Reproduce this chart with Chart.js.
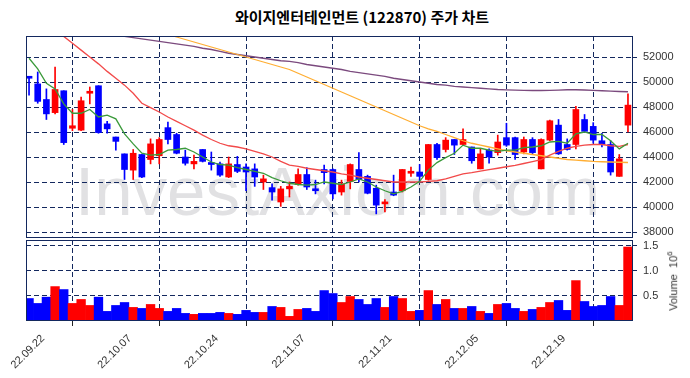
<!DOCTYPE html>
<html>
<head>
<meta charset="utf-8">
<script src="https://cdn.jsdelivr.net/npm/chart.js@4.4.1/dist/chart.umd.min.js"></script>
<style>
body { margin:0; width:690px; height:378px; position:relative; background:#fff; overflow:hidden; }
#wm { position:absolute; left:75px; top:157px; font:69px/69px 'Liberation Sans', Arial, sans-serif; color:#e1e1e3; white-space:nowrap; }
#titulo { position:absolute; left:0; top:7px; width:724px; text-align:center; font:bold 15px/20px 'Noto Sans CJK KR', sans-serif; color:#000; }
#vlabel { position:absolute; left:672px; top:281px; transform:translate(-50%,-50%) rotate(-90deg); font:11px 'Liberation Sans', Arial, sans-serif; color:#333; white-space:nowrap; }
canvas { position:absolute; left:0; }
</style>
</head>
<body>
<div id="wm">InvestAxiom.com</div>
<div id="titulo">와이지엔터테인먼트 (122870) 주가 차트</div>
<canvas id="price" width="690" height="240" style="top:0"></canvas>
<canvas id="volume" width="690" height="140" style="top:238px"></canvas>
<div id="vlabel">Volume&nbsp;&nbsp;10<sup style="font-size:8px">6</sup></div>
<script>
// ////// DADOS //////
var dates = ['22.09.22','22.09.23','22.09.26','22.09.27','22.09.28','22.09.29','22.09.30','22.10.04','22.10.05','22.10.06',
	'22.10.07','22.10.11','22.10.12','22.10.13','22.10.14','22.10.17','22.10.18','22.10.19','22.10.20','22.10.21',
	'22.10.24','22.10.25','22.10.26','22.10.27','22.10.28','22.10.31','22.11.01','22.11.02','22.11.03','22.11.04',
	'22.11.07','22.11.08','22.11.09','22.11.10','22.11.11','22.11.14','22.11.15','22.11.16','22.11.17','22.11.18',
	'22.11.21','22.11.22','22.11.23','22.11.24','22.11.25','22.11.28','22.11.29','22.11.30','22.12.01','22.12.02',
	'22.12.05','22.12.06','22.12.07','22.12.08','22.12.09','22.12.12','22.12.13','22.12.14','22.12.15','22.12.16',
	'22.12.19','22.12.20','22.12.21','22.12.22','22.12.23','22.12.26','22.12.27','22.12.28','22.12.29','23.01.02'];
var xTicks = [0, 10, 20, 30, 40, 50, 60];

var opens = [50400,49850,48600,47550,49300,46300,46150,49100,49700,46650,
	45600,44250,42950,44200,43800,44100,46350,45800,44000,43450,
	44600,43550,43450,42400,43400,43200,43050,42000,41550,40400,
	41450,41800,42600,41400,43000,43000,41200,42050,43000,42450,
	41500,40250,41200,41300,42700,42800,42200,45000,44600,45400,
	45000,44800,43050,44550,44350,45550,45550,44400,45400,43050,
	45350,46550,45000,45000,47000,46450,45300,45000,42450,46550];
var highs = [50400,50800,49450,51200,49300,47800,48800,49600,49700,46850,
	45600,44250,44600,44200,45450,45550,46800,45900,44550,44150,
	44600,44400,43600,44000,44050,43450,43450,42550,41850,41650,
	42000,43050,43150,42150,43350,43050,42150,43450,44350,42550,
	41750,40600,42550,43000,43200,43400,45000,45100,45550,45400,
	46250,44800,44650,44650,45750,46700,45600,45600,45550,45450,
	46950,47000,45450,48050,47400,46750,45900,45300,44200,49050];
var lows = [48950,48300,47000,47450,45000,46100,46100,48250,45900,45900,
	44550,42200,42200,42350,43450,43450,45050,44250,43350,43050,
	43600,42950,42450,42350,42750,41300,41650,41400,40550,40050,
	40800,41750,41400,41050,41850,40650,40950,41450,42000,41050,
	39450,39600,40900,41200,42450,42000,42150,43800,44400,44200,
	44950,43500,43050,43500,44150,44850,43800,44250,44250,43050,
	45300,44200,44550,44650,45950,45100,44800,42550,42450,46000];
var closes = [50300,48450,47450,49400,45150,46500,48500,49200,45950,46250,
	45250,43000,44300,42400,45050,45400,45400,44300,43500,43650,
	43650,43400,42550,43450,42850,42800,42400,42250,41200,41450,
	41650,42600,41600,41300,42750,41050,41850,43400,42200,41100,
	40150,40400,40950,43000,42850,42450,45000,43950,45350,44950,
	45400,43700,44250,44000,45200,44950,44200,45400,44350,45400,
	46900,44250,44600,47800,46050,45350,45000,42800,43850,48150];
var volumes = [447000,349000,474000,684000,625000,349000,428000,309000,474000,191000,
	309000,368000,270000,250000,329000,250000,191000,250000,151000,132000,
	151000,151000,171000,151000,132000,211000,171000,171000,289000,270000,
	92000,230000,250000,191000,605000,546000,368000,487000,428000,329000,
	447000,270000,487000,447000,191000,211000,605000,329000,428000,250000,
	250000,289000,191000,151000,329000,349000,250000,191000,230000,270000,
	368000,408000,211000,803000,388000,289000,309000,487000,309000,1470000];

// medias moveis
var ma5 = [51900,51050,49900,49450,48250,47500,47500,47800,47200,47350,
	47050,45850,45050,44300,44150,44200,44550,44600,44700,44400,
	44000,43600,43400,43350,43150,43000,42850,42700,42350,42100,
	41900,41800,41750,41800,42000,41900,41800,42000,42250,42000,
	41600,41300,41050,41250,41600,42050,42950,43550,43950,44300,
	44950,44700,44700,44550,44450,44550,44550,44750,44800,44900,
	45200,45250,45100,45850,46000,45800,45800,45300,44650,45100];
var ma20 = [55900,55300,54750,54200,53650,53100,52550,52000,51450,50850,
	50300,49750,49100,48300,47950,47600,47200,46850,46500,46150,
	45750,45400,45100,44900,44800,44650,44450,44250,44000,43650,
	43350,43250,43100,43000,42900,42800,42650,42550,42400,42300,
	42200,42100,42000,42000,42000,42000,42050,42100,42250,42450,
	42650,42750,42870,42990,43100,43220,43330,43480,43630,43790,
	44150,44450,44700,44850,44950,45000,45000,44900,44850,45000];
var ma60 = [57000,56800,56600,56400,56200,56000,55800,55600,55400,55200,
	55000,54800,54600,54400,54200,54000,53800,53600,53400,53200,
	53000,52800,52600,52400,52200,52000,51800,51600,51400,51200,
	51000,50700,50400,50100,49800,49500,49200,48900,48600,48300,
	48000,47700,47400,47100,46800,46500,46250,46050,45800,45550,
	45300,45100,44950,44800,44650,44500,44400,44300,44200,44100,
	44000,43900,43800,43750,43700,43650,43620,43600,43580,43560];
var ma120 = [54900,54800,54700,54600,54450,54350,54250,54100,54000,53900,
	53800,53650,53550,53450,53350,53250,53150,53050,52950,52850,
	52700,52600,52450,52300,52200,52100,52000,51900,51800,51700,
	51650,51550,51400,51300,51200,51100,51000,50850,50750,50650,
	50550,50450,50300,50200,50100,50000,49900,49800,49750,49650,
	49600,49550,49500,49450,49400,49370,49350,49330,49320,49320,
	49330,49350,49380,49380,49360,49330,49300,49270,49240,49220];

var priceTicks = [38000, 40000, 42000, 44000, 46000, 48000, 50000, 52000];
var volumeTicks = [500000, 1000000, 1500000];

// ////// ESTILO //////
var navy = '#13285e';
var up = '#ff0000';
var down = '#0000ff';
var fonte = { family: "'Liberation Sans', Arial, sans-serif", size: 11 };

var cores = closes.map(function(c, i) { return c >= opens[i] ? up : down; });

function serie(arr) {
	return arr.map(function(v, i) { return { x : i, y : v }; });
}

// sem padding automatico dos rotulos
function semPadding(s) {
	s.paddingTop = 0;
	s.paddingBottom = 0;
	s.paddingLeft = 0;
	s.paddingRight = 0;
}

// desenha a moldura da area do grafico
var moldura = {
	id : 'moldura',
	afterDraw : function(chart) {
		var a = chart.chartArea;
		var ctx = chart.ctx;
		ctx.save();
		ctx.strokeStyle = navy;
		ctx.lineWidth = 1;
		ctx.setLineDash([]);
		ctx.strokeRect(Math.round(a.left) + 0.5, Math.round(a.top) + 0.5, Math.round(a.right - a.left) - 1, Math.round(a.bottom - a.top) - 1);
		ctx.restore();
	}
};

var xBase = {
	type : 'linear',
	offset : false,
	min : -0.35,
	max : 69.58,
	afterBuildTicks : function(s) { s.ticks = xTicks.map(function(v) { return { value : v }; }); },
	border : { display : false, dash : [5, 3] }
};

// ////////// grafico de precos //////////
var graficoPreco = new Chart(document.getElementById("price"), {
	type : 'bar',
	data : {
		datasets : [ {
			type : 'line',
			data : serie(ma5),
			borderColor : '#3a9a3a',
			borderWidth : 1.3,
			pointRadius : 0
		}, {
			type : 'line',
			data : serie(ma20),
			borderColor : '#f24a4a',
			borderWidth : 1.3,
			pointRadius : 0
		}, {
			type : 'line',
			data : serie(ma60),
			borderColor : '#ffae33',
			borderWidth : 1.3,
			pointRadius : 0
		}, {
			type : 'line',
			data : serie(ma120),
			borderColor : '#7b4a7e',
			borderWidth : 1.3,
			pointRadius : 0
		}, {
			data : opens.map(function(o, i) { return { x : i, y : [o, closes[i]] }; }),
			backgroundColor : cores,
			barThickness : 6,
			minBarLength : 2,
			grouped : false
		}, {
			data : lows.map(function(l, i) { return { x : i, y : [l, highs[i]] }; }),
			backgroundColor : cores,
			barThickness : 1,
			grouped : false
		} ]
	},
	options : {
		responsive : false,
		animation : false,
		layout : { padding : { left : 26, top : 36, bottom : 2, right : 0 }, autoPadding : false },
		plugins : { legend : { display : false }, tooltip : { enabled : false } },
		scales : {
			x : Object.assign({}, xBase, {
				ticks : { display : false },
				grid : { color : navy, lineWidth : 1, drawTicks : false },
				afterFit : function(s) { s.height = 0; semPadding(s); }
			}),
			y : {
				position : 'right',
				min : 37520,
				max : 53680,
				afterBuildTicks : function(s) { s.ticks = priceTicks.map(function(v) { return { value : v }; }); },
				ticks : { color : '#333', font : fonte, padding : 6, callback : function(v) { return String(v); } },
				grid : { color : navy, lineWidth : 1, tickLength : 4, tickColor : navy },
				border : { display : false, dash : [5, 3] },
				afterFit : function(s) { s.width = 57; semPadding(s); }
			}
		}
	},
	plugins : [ moldura ]
});

// ////////// grafico de volume //////////
var graficoVolume = new Chart(document.getElementById("volume"), {
	type : 'bar',
	data : {
		datasets : [ {
			data : serie(volumes),
			backgroundColor : cores,
			barPercentage : 1,
			categoryPercentage : 1
		} ]
	},
	options : {
		responsive : false,
		animation : false,
		layout : { padding : { left : 26, top : 2, bottom : 0, right : 0 }, autoPadding : false },
		plugins : { legend : { display : false }, tooltip : { enabled : false } },
		scales : {
			x : Object.assign({}, xBase, {
				ticks : { color : '#333', font : fonte, autoSkip : false, minRotation : 45, maxRotation : 45, padding : 6, labelOffset : 14,
					callback : function(v) { return dates[v]; } },
				grid : { color : navy, lineWidth : 1, tickLength : 5, tickColor : '#222' },
				afterFit : function(s) { s.height = 57; semPadding(s); }
			}),
			y : {
				position : 'right',
				min : 0,
				max : 1610000,
				afterBuildTicks : function(s) { s.ticks = volumeTicks.map(function(v) { return { value : v }; }); },
				ticks : { color : '#333', font : fonte, padding : 6, callback : function(v) { return (v / 1000000).toFixed(1); } },
				grid : { color : navy, lineWidth : 1, tickLength : 4, tickColor : navy },
				border : { display : false, dash : [5, 3] },
				afterFit : function(s) { s.width = 57; semPadding(s); }
			}
		}
	},
	plugins : [ moldura ]
});
</script>
</body>
</html>
